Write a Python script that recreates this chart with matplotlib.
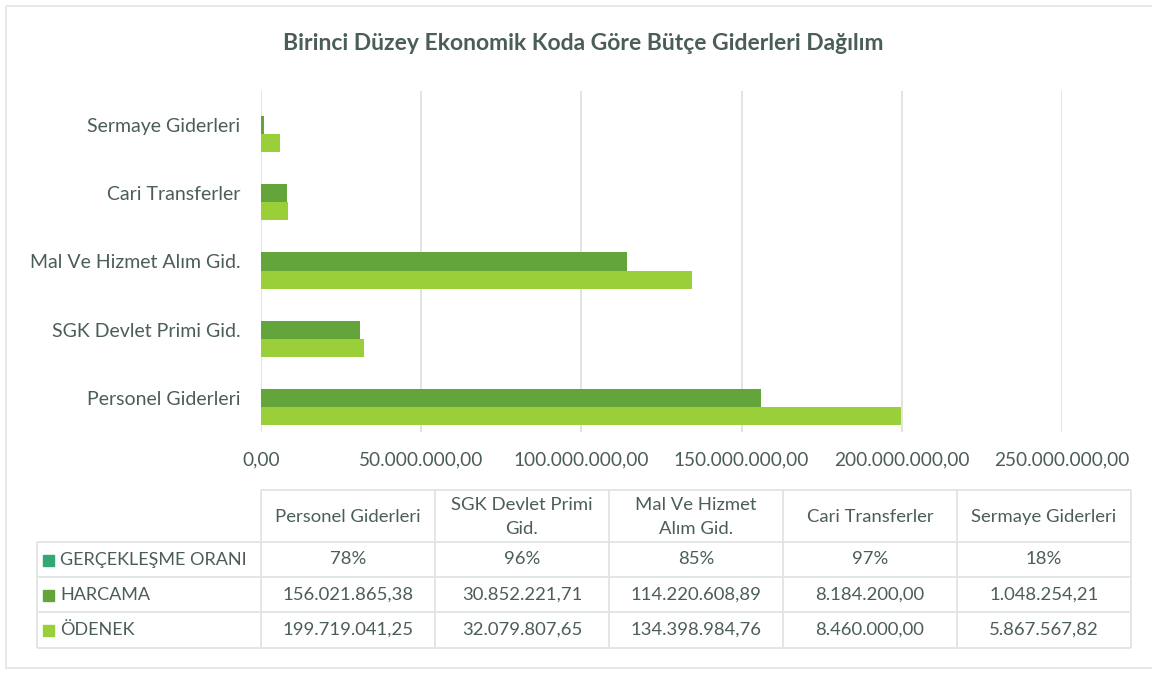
import matplotlib
matplotlib.use("Agg")
import matplotlib.pyplot as plt
import numpy as np

plt.rcParams['font.family'] = ['Lato', 'DejaVu Sans']

categories = ["Personel Giderleri", "SGK Devlet Primi Gid.", "Mal Ve Hizmet Alım Gid.",
              "Cari Transferler", "Sermaye Giderleri"]
header_labels = ["Personel Giderleri", "SGK Devlet Primi\nGid.", "Mal Ve Hizmet\nAlım Gid.",
                 "Cari Transferler", "Sermaye Giderleri"]
oran = [0.78, 0.96, 0.85, 0.97, 0.18]
harcama = [156021865.38, 30852221.71, 114220608.89, 8184200.00, 1048254.21]
odenek = [199719041.25, 32079807.65, 134398984.76, 8460000.00, 5867567.82]
series_names = ["GERÇEKLEŞME ORANI", "HARCAMA", "ÖDENEK"]
xticks = [0, 50e6, 100e6, 150e6, 200e6, 250e6]

TXT = "#4b5e55"
GRID = "#dde3e0"
C_ORAN = "#33a874"
C_HARC = "#63a53a"
C_ODEN = "#9bcf3a"


def tr_num(v):
    s = f"{v:,.2f}"
    return s.replace(",", "X").replace(".", ",").replace("X", ".")


W, H = 1152, 675
fig = plt.figure(figsize=(W / 100, H / 100), dpi=100)

# bar area in pixel coords
x0, x1, y0, y1 = 261, 1062, 91, 432
ax = fig.add_axes([x0 / W, 1 - y1 / H, (x1 - x0) / W, (y1 - y0) / H])
y = np.arange(len(categories))
bh = 0.264
ax.barh(y - bh, odenek, height=bh, color=C_ODEN, zorder=3)
ax.barh(y, harcama, height=bh, color=C_HARC, zorder=3)
ax.barh(y + bh, oran, height=bh, color=C_ORAN, zorder=3)
ax.set_xlim(0, 250e6)
ax.set_ylim(-0.5, 4.5)
ax.set_xticks(xticks)
ax.set_xticklabels([tr_num(v) for v in xticks], fontsize=13.7, color=TXT)
ax.set_yticks(y)
ax.set_yticklabels(categories, fontsize=14, color=TXT)
ax.tick_params(length=0)
ax.tick_params(axis='x', pad=14)
ax.tick_params(axis='y', pad=15)
ax.xaxis.grid(True, color=GRID, linewidth=1.3, zorder=0)
for s in ax.spines.values():
    s.set_visible(False)

fig.text(583 / W, 1 - 44 / H, "Birinci Düzey Ekonomik Koda Göre Bütçe Giderleri Dağılım",
         ha='center', va='center', fontsize=16.5, fontweight='bold', color=TXT)

# data table below
tax = fig.add_axes([0, 0, 1, 1])
tax.set_xlim(0, W)
tax.set_ylim(H, 0)
tax.axis('off')

col_x = [261 + 174 * i for i in range(6)]
row_y = [490, 542, 577, 612, 648]
lc = "#dfe5e2"
lw = 1.3
# header row
tax.hlines(row_y[0], col_x[0], col_x[-1], color=lc, lw=lw)
for xx in col_x:
    tax.vlines(xx, row_y[0], row_y[-1], color=lc, lw=lw)
for yy in row_y[1:]:
    tax.hlines(yy, 37, col_x[-1], color=lc, lw=lw)
tax.vlines(37, row_y[1], row_y[-1], color=lc, lw=lw)

for i, lab in enumerate(header_labels):
    cx = (col_x[i] + col_x[i + 1]) / 2
    tax.text(cx, (row_y[0] + row_y[1]) / 2 + 1, lab, ha='center', va='center',
             fontsize=13.3, color=TXT, linespacing=1.6)

rows = [
    [f"{v * 100:.0f}%" for v in oran],
    [tr_num(v) for v in harcama],
    [tr_num(v) for v in odenek],
]
colors = [C_ORAN, C_HARC, C_ODEN]
for r, (name, vals, c) in enumerate(zip(series_names, rows, colors)):
    cy = (row_y[r + 1] + row_y[r + 2]) / 2
    tax.add_patch(plt.Rectangle((43, cy - 5), 11, 11, color=c))
    tax.text(60, cy, name, ha='left', va='center', fontsize=13, color=TXT)
    for i, v in enumerate(vals):
        cx = (col_x[i] + col_x[i + 1]) / 2
        tax.text(cx, cy, v, ha='center', va='center', fontsize=13.3, color=TXT)

# outer chart border
tax.add_patch(plt.Rectangle((6, 6), 1160, 662, fill=False, edgecolor="#e3e8e6", lw=1.3))

fig.savefig("out.png", dpi=100)
